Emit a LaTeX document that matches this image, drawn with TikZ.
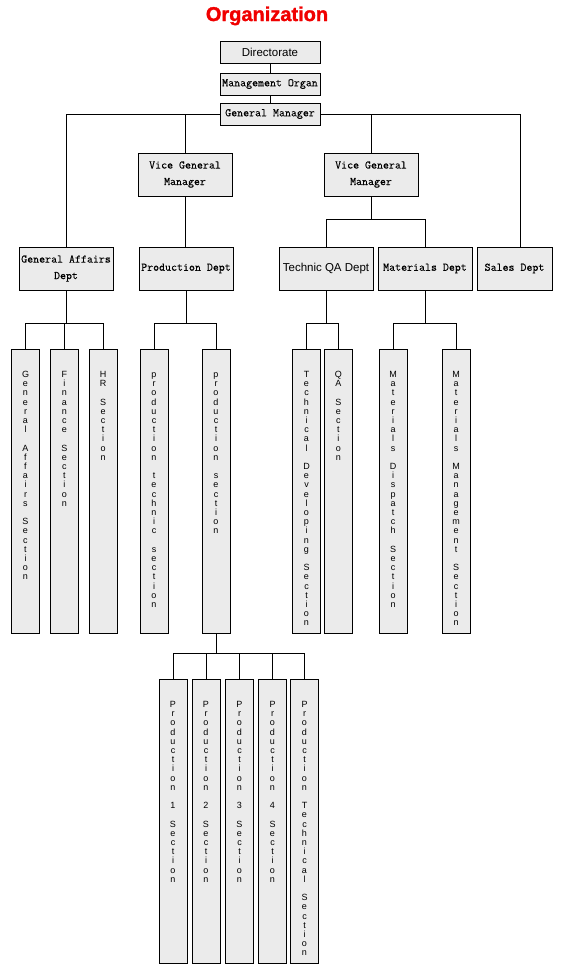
\documentclass[tikz,border=0pt]{standalone}
\usepackage{fontspec}
\usepackage{xcolor}
\usepackage{tikz}
\usetikzlibrary{positioning}
\newfontfamily\arialfont{Liberation Sans}
\newfontfamily\titlefont{Liberation Sans}[BoldFeatures={FakeBold=1.5}]
\newfontfamily\simfont{Latin Modern Mono}[FakeBold=0.25]
\definecolor{boxgray}{HTML}{EBEBEB}
\definecolor{titlered}{HTML}{F00000}

% letters stacked one under the other, words separated by an empty line
\ExplSyntaxOn
\NewDocumentCommand\vlabel{m}
 {
  \vbox to 284pt
   {
    \kern 21pt
    \baselineskip=9.2pt \lineskiplimit=-20pt
    \clist_map_inline:nn {#1}
     {
      \tl_map_inline:nn {##1}
       { \hbox to 28pt {\hss \vrule height 7pt depth 0pt width 0pt \relax ####1 \hss} }
      \hbox{}
     }
    \vfil
   }
 }
\ExplSyntaxOff

\begin{document}
\begin{tikzpicture}[
  x=1pt, y=-1pt,
  deptbox/.style={draw, fill=boxgray, line width=0.8pt, minimum width=94pt, minimum height=43pt,
                  inner sep=1pt, align=center, font=\simfont\fontsize{11.6}{16.5}\selectfont},
  headbox/.style={deptbox, minimum width=100pt, minimum height=22pt},
  secbox/.style={draw, fill=boxgray, line width=0.8pt, inner sep=0pt, anchor=north,
                 font=\arialfont\fontsize{9}{9.2}\selectfont},
  tie/.style={line width=0.8pt},
  sansbox/.style={font=\arialfont\fontsize{11.5}{14}\selectfont},
]
\useasboundingbox (0,0) rectangle (565,970);

\node[anchor=base, text=titlered, font=\titlefont\bfseries\fontsize{20}{20}\selectfont] (title) at (267,21) {Organization};

% top of the tree
\node[headbox, sansbox] (dir) at (270,52) {Directorate};
\node[headbox] (mgmt) at (270,84) {Management Organ};
\node[headbox] (gm) at (270,114) {General Manager};

\node[deptbox] (vgm1) at (185,174.5) {Vice General\\Manager};
\node[deptbox] (vgm2) at (371,174.5) {Vice General\\Manager};

% departments
\node[deptbox] (gad) at (66,268.5) {General Affairs\\Dept};
\node[deptbox] (pd) at (186,268.5) {Production Dept};
\node[deptbox, sansbox] (tqa) at (326,268.5) {Technic QA Dept};
\node[deptbox] (mat) at (425,268.5) {Materials Dept};
\node[deptbox, minimum width=75pt] (sales) at (514.5,268.5) {Sales Dept};

% sections
\node[secbox] (gas) at (25.5,349) {\vlabel{General,Affairs,Section}};
\node[secbox, right=10pt of gas] (fin) {\vlabel{Finance,Section}};
\node[secbox, right=10pt of fin] (hrs) {\vlabel{HR,Section}};
\node[secbox] (pts) at (154,349) {\vlabel{production,technic,section}};
\node[secbox] (ps) at (216,349) {\vlabel{production,section}};
\node[secbox] (tds) at (306.5,349) {\vlabel{Technical,Developing,Section}};
\node[secbox, right=3pt of tds] (qas) {\vlabel{QA,Section}};
\node[secbox] (mds) at (393,349) {\vlabel{Materials,Dispatch,Section}};
\node[secbox] (mms) at (456,349) {\vlabel{Materials,Management,Section}};

\node[secbox] (p1) at (173,679) {\vlabel{Production,1,Section}};
\node[secbox] (p2) at (206,679) {\vlabel{Production,2,Section}};
\node[secbox] (p3) at (239.5,679) {\vlabel{Production,3,Section}};
\node[secbox] (p4) at (272.5,679) {\vlabel{Production,4,Section}};
\node[secbox] (p5) at (304.5,679) {\vlabel{Production,Technical,Section}};

% connectors
\draw[tie] (dir) -- (mgmt);
\draw[tie] (mgmt) -- (gm);
\draw[tie] (gm.west) -| (gad.north);
\draw[tie] (gm.west) -| (vgm1.north);
\draw[tie] (gm.east) -| (vgm2.north);
\draw[tie] (gm.east) -| ([xshift=6pt]sales.north);
\draw[tie] (vgm1.south) -- (vgm1.south |- pd.north);
\foreach \c in {tqa,mat}
  \draw[tie] (vgm2.south) -- ++(0,23) -| (\c.north);
\foreach \c in {gas,fin,hrs}
  \draw[tie] (gad.south) -- ++(0,33) -| (\c.north);
\foreach \c in {pts,ps}
  \draw[tie] (pd.south) -- ++(0,33) -| (\c.north);
\foreach \c in {tds,qas}
  \draw[tie] (tqa.south) -- ++(0,33) -| (\c.north);
\foreach \c in {mds,mms}
  \draw[tie] (mat.south) -- ++(0,33) -| (\c.north);
\foreach \i in {1,...,5}
  \draw[tie] (ps.south) -- ++(0,20) -| (p\i.north);
\end{tikzpicture}
\end{document}
